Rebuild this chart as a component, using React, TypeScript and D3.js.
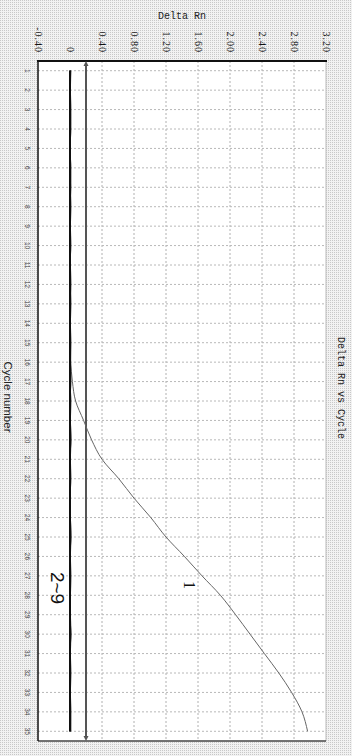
import React from "react";
import * as d3 from "d3";

// cycle numbers (drawn top to bottom, the chart is turned a quarter turn)
const cycles = [
  1, 2, 3, 4, 5, 6, 7, 8, 9, 10, 11, 12, 13, 14, 15, 16, 17, 18, 19, 20,
  21, 22, 23, 24, 25, 26, 27, 28, 29, 30, 31, 32, 33, 34, 35,
];

// Delta Rn axis ticks
const rnTicks = [-0.4, 0, 0.4, 0.8, 1.2, 1.6, 2.0, 2.4, 2.8, 3.2];
const rnTickLabels = ["-0.40", "0", "0.40", "0.80", "1.20", "1.60", "2.00", "2.40", "2.80", "3.20"];

// sample 1 (amplified)
const curve1 = [
  0, 0, 0, 0, 0, 0, 0, 0, 0, 0, 0, 0, 0, 0, 0.005, 0.01, 0.03, 0.07, 0.17, 0.27,
  0.4, 0.61, 0.8, 1.01, 1.2, 1.43, 1.65, 1.88, 2.07, 2.25, 2.43, 2.61, 2.77, 2.9, 2.97,
];

// samples 2~9, flat near zero
const curve2 = [0.005, 0.005, 0, 0, 0.005, 0, 0, 0.005, 0, 0, 0.005, 0, 0, 0, 0.005, 0, 0, 0, 0.005, 0, 0, 0.005, 0, 0, 0, 0.005, 0, 0, 0.005, 0, 0, 0, 0.005, 0, 0];
const curve3 = [0, 0, -0.005, 0, 0, -0.005, 0, 0, 0, -0.005, 0, 0, -0.005, 0, 0, 0, -0.005, 0, 0, 0, -0.005, 0, 0, -0.005, 0, 0, 0, -0.005, 0, 0, -0.005, 0, 0, 0, -0.005];
const curve4 = [0.005, 0, 0.005, 0.01, 0, 0.005, 0.01, 0, 0.005, 0, 0.005, 0.01, 0, 0.005, 0, 0.005, 0.01, 0, 0.005, 0.01, 0, 0.005, 0, 0.005, 0.01, 0, 0.005, 0, 0.005, 0.01, 0, 0.005, 0, 0.005, 0.01];
const curve5 = [-0.005, 0, -0.005, 0, -0.005, 0, -0.005, 0, 0, -0.005, 0, -0.005, 0, -0.005, 0, 0, -0.005, -0.005, 0, -0.005, 0, 0, -0.005, 0, -0.005, 0, -0.005, 0, 0, -0.005, 0, -0.005, -0.005, 0, -0.005];
const curve6 = [0.01, 0.005, 0.01, 0.005, 0, 0.01, 0.005, 0.01, 0.005, 0.01, 0, 0.005, 0.01, 0.005, 0.01, 0.005, 0, 0.01, 0.005, 0.01, 0.005, 0.01, 0, 0.005, 0.01, 0.005, 0.01, 0.005, 0, 0.01, 0.005, 0.01, 0.005, 0.01, 0.005];
const curve7 = [0, -0.005, 0, 0.005, 0, -0.005, 0, 0.005, 0, 0, -0.005, 0, 0.005, 0, -0.005, 0, 0.005, 0, 0, -0.005, 0, 0.005, 0, -0.005, 0, 0.005, 0, 0, -0.005, 0, 0.005, 0, -0.005, 0, 0.005];
const curve8 = [0.005, 0.005, 0, 0, 0.005, 0.005, 0, 0, 0.005, 0.005, 0, 0, 0.005, 0.005, 0, 0, 0.005, 0.005, 0, 0, 0.005, 0.005, 0, 0, 0.005, 0.005, 0, 0, 0.005, 0.005, 0, 0, 0.005, 0.005, 0];
const curve9 = [-0.005, 0, 0, -0.005, -0.005, 0, 0, -0.005, -0.005, 0, 0, -0.005, -0.005, 0, 0, -0.005, -0.005, 0, 0, -0.005, -0.005, 0, 0, -0.005, -0.005, 0, 0, -0.005, -0.005, 0, 0, -0.005, -0.005, 0, 0];
const flatCurves = [curve2, curve3, curve4, curve5, curve6, curve7, curve8, curve9];

const threshold = 0.2;

const W = 352;
const H = 756;
const left = 38;
const right = 326;
const top = 61;
const bottom = 741;

export default function App() {
  const x = d3.scaleLinear().domain([-0.4, 3.2]).range([left, right]);
  const y = d3.scaleLinear().domain([0.5, 35.5]).range([top, bottom]);

  const line = d3
    .line<number>()
    .x((d) => x(d))
    .y((_, i) => y(cycles[i]))
    .curve(d3.curveMonotoneY);

  const tx = x(threshold);
  const cx = (left + right) / 2;
  const cy = (top + bottom) / 2;

  return (
    <svg
      width={W}
      height={H}
      style={{ position: "absolute", left: 0, top: 0, display: "block" }}
    >
      <defs>
        <pattern id="dots" width="2" height="2" patternUnits="userSpaceOnUse">
          <rect width="2" height="2" fill="#f2f2f2" />
          <rect width="1" height="1" fill="#c8c8c8" />
        </pattern>
      </defs>
      <rect width={W} height={H} fill="url(#dots)" />
      <rect x={left} y={top} width={right - left} height={bottom - top} fill="#fff" />

      {/* grid */}
      {rnTicks.slice(2, -1).map((t) => (
        <line key={"v" + t} x1={x(t)} x2={x(t)} y1={top} y2={bottom}
          stroke="#b0b0b0" strokeWidth={1} strokeDasharray="2,2" />
      ))}
      {cycles.map((c) => (
        <line key={"h" + c} x1={left} x2={right} y1={y(c)} y2={y(c)}
          stroke="#b8b8b8" strokeWidth={1} strokeDasharray="2,2" />
      ))}

      {/* frame */}
      <line x1={right} x2={right} y1={top} y2={bottom} stroke="#bbb" strokeWidth={1} />
      <line x1={left} x2={right} y1={bottom} y2={bottom} stroke="#444" strokeWidth={1.5} />
      <line x1={left} x2={left} y1={top} y2={bottom} stroke="#111" strokeWidth={1.5} />
      <line x1={left - 1} x2={right + 1} y1={top} y2={top} stroke="#111" strokeWidth={2} />

      {/* threshold */}
      <line x1={tx} x2={tx} y1={top + 2} y2={bottom - 2} stroke="#555" strokeWidth={2} />
      <path d={`M${tx},${top} l-2.5,5 l5,0 z`} fill="#555" />
      <path d={`M${tx},${bottom} l-2.5,-5 l5,0 z`} fill="#555" />

      {/* curves */}
      <path d={line(curve1) ?? ""} fill="none" stroke="#666" strokeWidth={1} />
      {flatCurves.map((c, i) => (
        <path key={i} d={line(c) ?? ""} fill="none" stroke="#111" strokeWidth={1.1} />
      ))}

      {/* Delta Rn tick labels */}
      {rnTicks.map((t, i) => (
        <text key={"l" + t} transform={`translate(${x(t)},53) rotate(90)`}
          textAnchor="end" dominantBaseline="central" letterSpacing={1}
          fontFamily="Liberation Serif" fontSize={10} fill="#111">
          {rnTickLabels[i]}
        </text>
      ))}

      {/* cycle labels */}
      {cycles.map((c) => (
        <text key={"c" + c} transform={`translate(27,${y(c)}) rotate(90)`}
          textAnchor="middle" dominantBaseline="central"
          fontFamily="Liberation Sans" fontSize={6.5} fill="#444">
          {c}
        </text>
      ))}

      {/* titles */}
      <text x={cx} y={19} textAnchor="middle" fontFamily="Liberation Mono" fontSize={10} fill="#222">
        Delta Rn
      </text>
      <text transform={`translate(340,${cy - 13}) rotate(90)`} textAnchor="middle"
        dominantBaseline="central" fontFamily="Liberation Mono" fontSize={10} fill="#222">
        Delta Rn vs Cycle
      </text>
      <text transform={`translate(8,${cy - 4}) rotate(90)`} textAnchor="middle"
        dominantBaseline="central" fontFamily="Liberation Sans" fontSize={11.5} fill="#222">
        Cycle number
      </text>

      {/* curve labels */}
      <text transform={`translate(189,585) rotate(90)`} textAnchor="middle"
        dominantBaseline="central" fontFamily="Liberation Serif" fontSize={16} fill="#111">
        1
      </text>
      <text transform={`translate(57,588) rotate(90)`} textAnchor="middle"
        dominantBaseline="central" fontFamily="Liberation Sans" fontSize={19} fill="#111">
        2~9
      </text>
    </svg>
  );
}
